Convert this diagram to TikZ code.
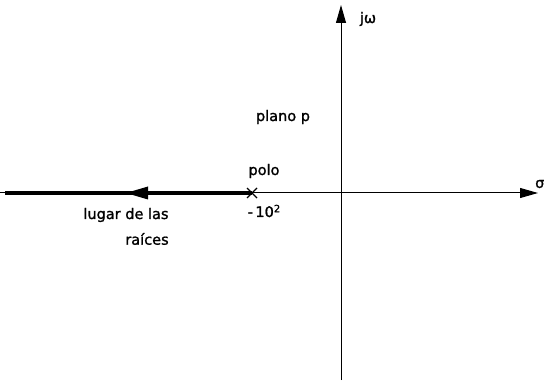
\documentclass[tikz,border=0pt]{standalone}
\usepackage{fontspec}
\setmainfont{DejaVu Sans}
\newfontfamily\lblfont[FakeBold=1.3]{DejaVu Sans}
\usetikzlibrary{arrows.meta}
\begin{document}
\begin{tikzpicture}[x=1pt,y=-1pt,
  lbl/.style={inner sep=0pt,font=\lblfont\fontsize{14.5}{17}\selectfont},
  axis/.style={line width=1pt,-{Triangle[length=18pt,width=10pt]}},
  locus/.style={line width=4pt}]
\useasboundingbox (0,0) rectangle (544,382);
\coordinate (vb) at (341,380);
\coordinate (vt) at (341,5);
\coordinate (hl) at (0,193);
\coordinate (hr) at (538,193);
\coordinate (pole) at (252,193);
\coordinate (le) at (5,193);
\coordinate (am) at (126,193);
\draw[axis] (vb) -- (vt);
\draw[axis] (hl) -- (hr);
\draw[locus] (pole) -- (le);
\draw[line width=1.1pt] (pole) ++(-5,-5) -- ++(10,10) (pole) ++(-5,5) -- ++(10,-10);
\fill (am) -- ++(22,-6.5) -- ++(0,13) -- cycle;
\node[lbl] (jw) at (368,19) {jω};
\node[lbl] (plano) at (283,117) {plano p};
\node[lbl] (polo) at (264,171) {polo};
\node[lbl] (num) at (264,211) {-\,10\raisebox{0.6ex}{\fontsize{10}{12}\selectfont 2}};
\node[lbl] (lugar) at (126,215) {lugar de las};
\node[lbl] (raices) at (147,239) {raíces};
\node[lbl,anchor=west] (sigma) at (535,184) {σ};
\end{tikzpicture}
\end{document}
